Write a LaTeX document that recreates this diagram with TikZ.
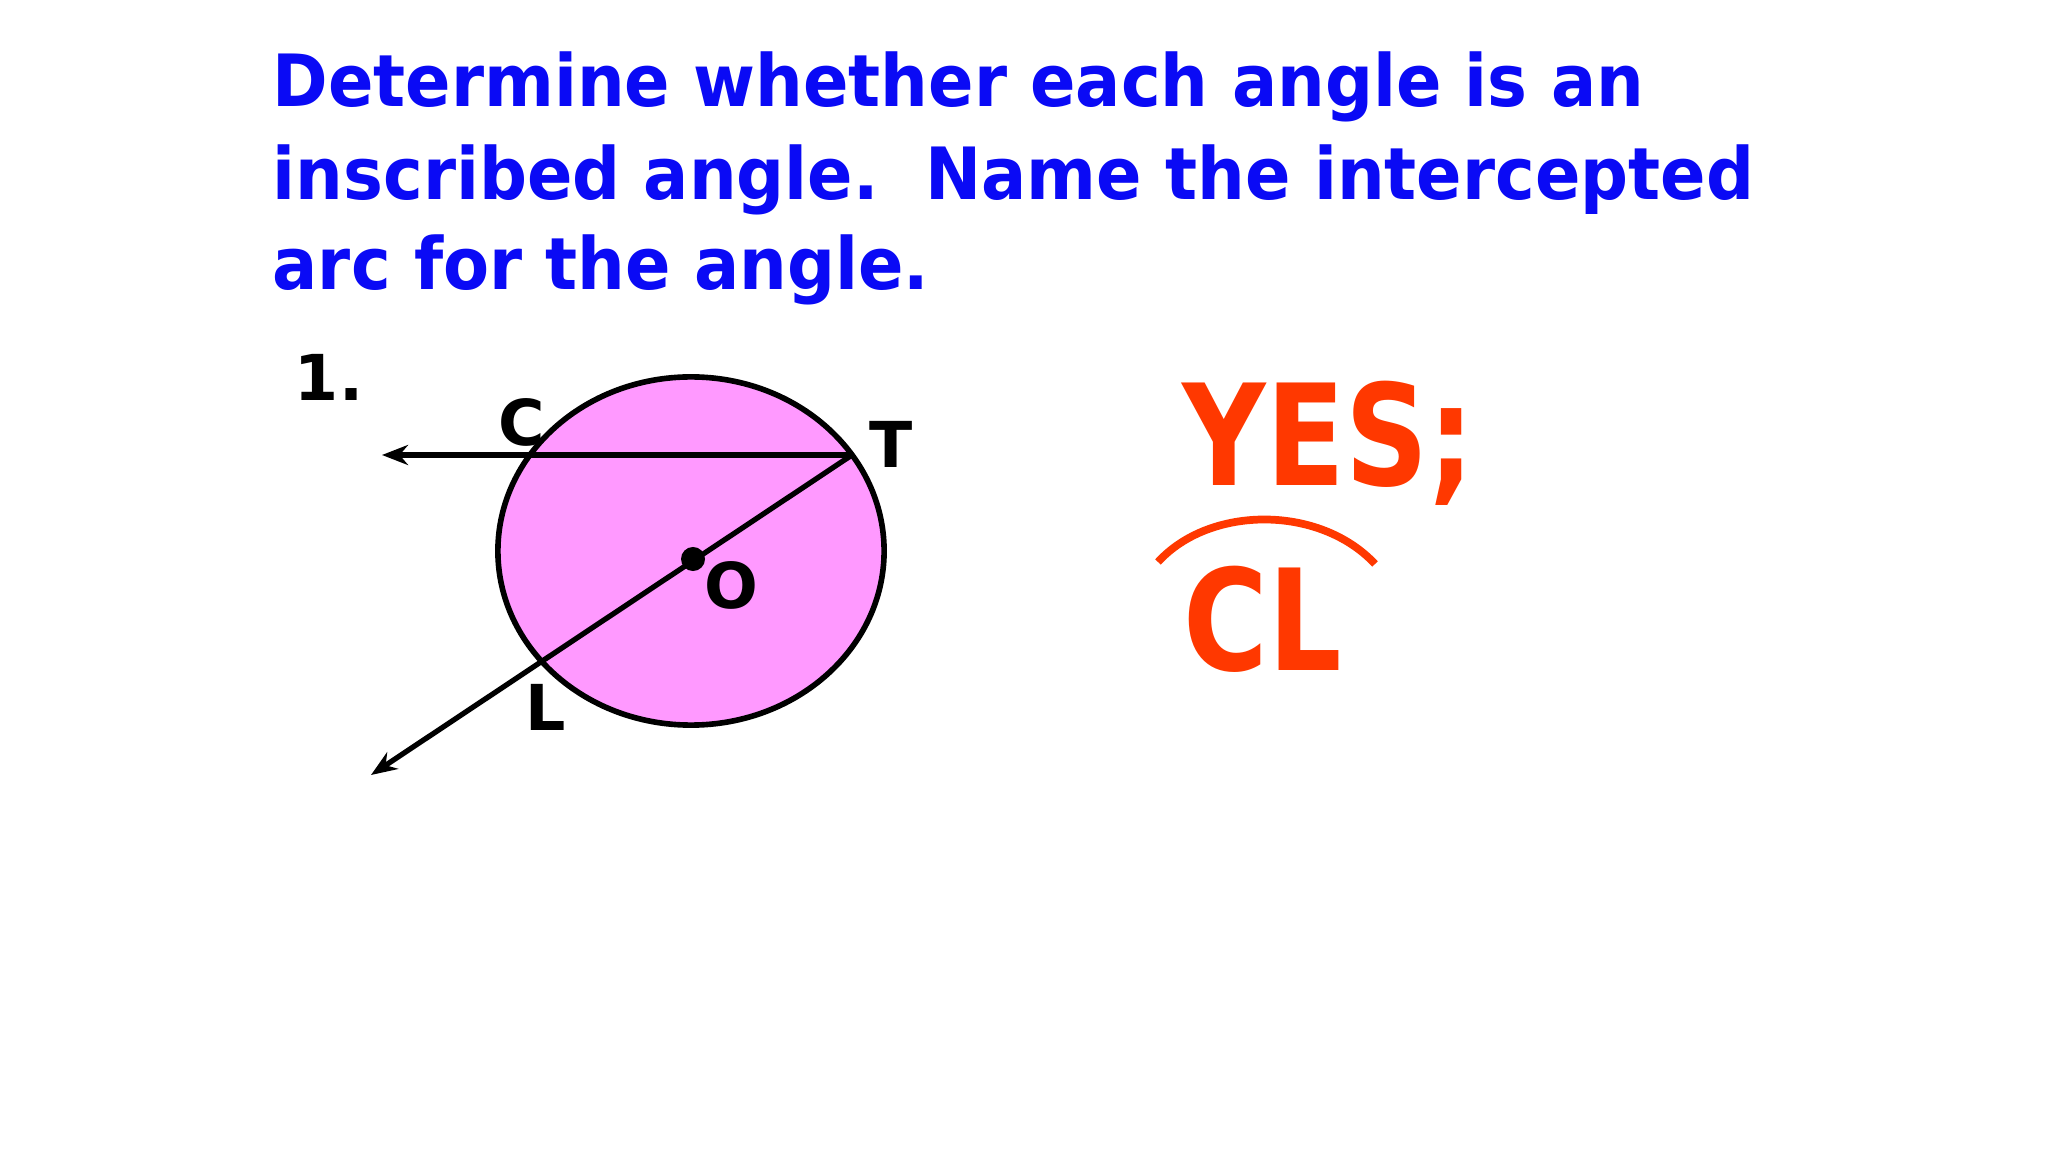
\documentclass[tikz,border=0pt]{standalone}
\usepackage{fontspec}
\setmainfont{DejaVu Sans}
\newfontfamily\questfont{DejaVu Sans}[FakeStretch=0.93]
\newfontfamily\answerfont{DejaVu Sans}[FakeStretch=0.82]
\usetikzlibrary{arrows.meta}
\definecolor{titleblue}{RGB}{10,10,245}
\definecolor{answerred}{RGB}{255,56,0}
\definecolor{diskpink}{RGB}{255,153,255}

\begin{document}
\begin{tikzpicture}[x=0.01cm,y=-0.01cm,
    ray/.style={line width=1.5pt,-{Stealth[length=0.26cm,width=0.2cm]}},
    ptlabel/.style={inner sep=0pt,font=\fontsize{18}{18}\selectfont\bfseries},
    question/.style={anchor=base west,text=titleblue,inner sep=0pt,font=\fontsize{20.5}{20.5}\questfont\bfseries},
    answer/.style={anchor=base west,text=answerred,inner sep=0pt,font=\fontsize{40}{40}\answerfont\bfseries}]
    \useasboundingbox[fill=white] (0,0) rectangle (2048,1152);

    % question text
    \node[question] (q1) at (272,107) {Determine whether each angle is an};
    \node[question] (q2) at (272,200) {inscribed angle.\ \ Name the intercepted};
    \node[question] (q3) at (272,290) {arc for the angle.};

    % circle with centre O
    \coordinate (ctr) at (691,551);
    \coordinate (C) at (530,455);
    \coordinate (T) at (852,455);
    \coordinate (L) at (542,661);
    \coordinate (tipC) at (382,455);
    \coordinate (tipL) at (371,775);
    \draw[line width=1.6pt, fill=diskpink] (ctr) ellipse [x radius=1.93cm, y radius=1.74cm];
    \draw[ray] (T) -- (tipC);
    \draw[ray] (T) -- (tipL);
    \node[circle, fill, inner sep=0pt, minimum size=0.24cm] (O) at (693,559) {};

    \node[ptlabel] (num) at (329,377) {1.};
    \node[ptlabel] (lC) at (522,422) {C};
    \node[ptlabel] (lT) at (891,444) {T};
    \node[ptlabel] (lO) at (731,585) {O};
    \node[ptlabel] (lL) at (546,707) {L};

    % answer
    \node[answer] (yes) at (1182,486) {YES;};
    \node[answer] (arcname) at (1183,670) {CL};
    \draw[answerred, line width=2.2pt] (1158,562) .. controls (1210,505) and (1320,505) .. (1375,564);
\end{tikzpicture}
\end{document}
